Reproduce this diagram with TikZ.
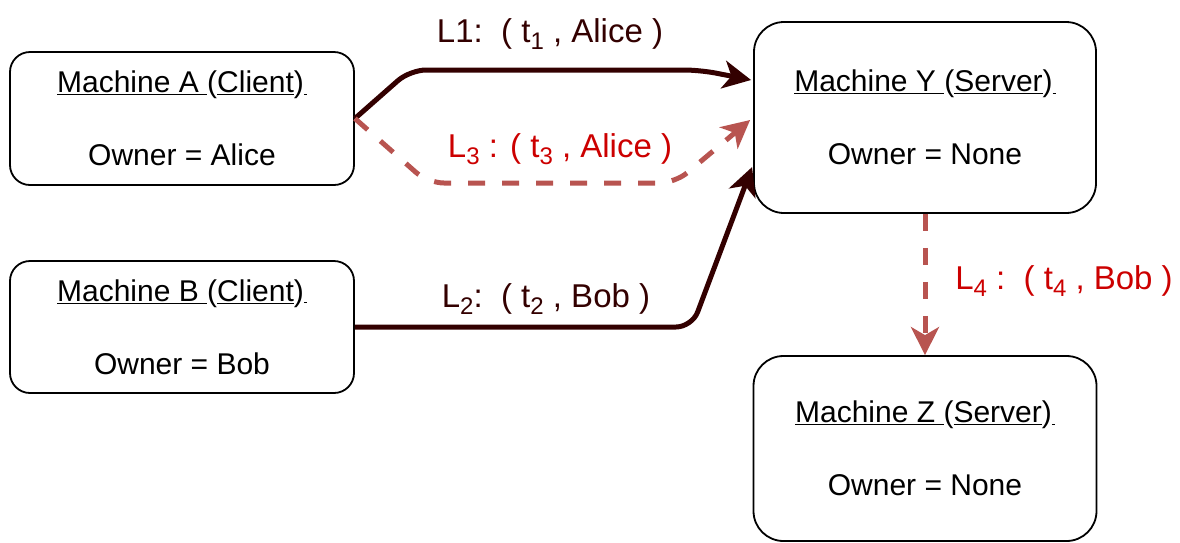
\documentclass[tikz,border=0pt]{standalone}
\usepackage{fontspec}
\setmainfont{Liberation Sans}
\usetikzlibrary{arrows.meta,calc}
\definecolor{darkline}{HTML}{330000}
\definecolor{lockred}{HTML}{B85450}
\definecolor{labred}{HTML}{CC0000}
\newcommand\mysubx[1]{\raisebox{-7pt}{\fontsize{24}{24}\selectfont #1}}
\begin{document}
\begin{tikzpicture}[x=1pt,y=-1pt,
 box/.style={draw=black,line width=1.8pt,fill=white,align=center,font=\fontsize{30}{36}\selectfont,inner sep=0pt},
 lbl/.style={font=\fontsize{33}{40}\selectfont,anchor=base,inner sep=0pt},
 tipstyle/.style={-{Stealth[length=28pt,width=28pt,inset=8pt]}},
 solidarrow/.style={draw=darkline,line width=5pt,rounded corners=16pt,tipstyle},
 dasharrow/.style={draw=lockred,line width=5pt,dash pattern=on 17pt off 17pt,rounded corners=16pt,tipstyle}]
\useasboundingbox (0,0) rectangle (1180,542);

\node[box,minimum width=344pt,minimum height=133pt,rounded corners=20pt] (A) at (182,118.5)
  {\underline{Machine A\ }(\underline{Client})\underline{\kern3pt}\\[37pt]Owner = Alice};
\node[box,minimum width=344pt,minimum height=132pt,rounded corners=20pt] (B) at (182,327)
  {\underline{Machine B\ }(\underline{Client})\underline{\kern3pt}\\[37pt]Owner = Bob};
\node[box,minimum width=342pt,minimum height=191pt,rounded corners=30pt] (Y) at (925,117.5)
  {\underline{Machine Y\ }(\underline{Server})\underline{\kern3pt}\\[37pt]Owner = None};
\node[box,minimum width=343pt,minimum height=185pt,rounded corners=30pt] (Z) at (925,448.5)
  {\underline{Machine Z\ }(\underline{Server})\underline{\kern3pt}\\[37pt]Owner = None};

\coordinate (y1) at ($(Y.west)+(-2,-37.5)$);
\coordinate (y3) at ($(Y.west)+(-3,2.5)$);
\coordinate (y2) at ($(Y.west)+(-1,49.5)$);

\draw[solidarrow] (A.east) -- (410,70) -- (700,70) -- (y1);
\draw[dasharrow] (A.east) -- (428,183) -- (675,183) -- (y3);
\draw[solidarrow] (B.east) -- (692,327) -- (y2);
\draw[dasharrow] (Y.south) -- (Z.north);

\node[lbl,text=darkline] (l1) at (550,42) {L1:\ \ ( t\mysubx{1} , Alice )};
\node[lbl,text=labred] (l3) at (560,157) {L\mysubx{3} : ( t\mysubx{3} , Alice )};
\node[lbl,text=darkline] (l2) at (546,307) {L\mysubx{2}:\ \ ( t\mysubx{2} , Bob )};
\node[lbl,text=labred] (l4) at (1064,289) {L\mysubx{4} :\ \ ( t\mysubx{4} , Bob )};
\end{tikzpicture}
\end{document}
